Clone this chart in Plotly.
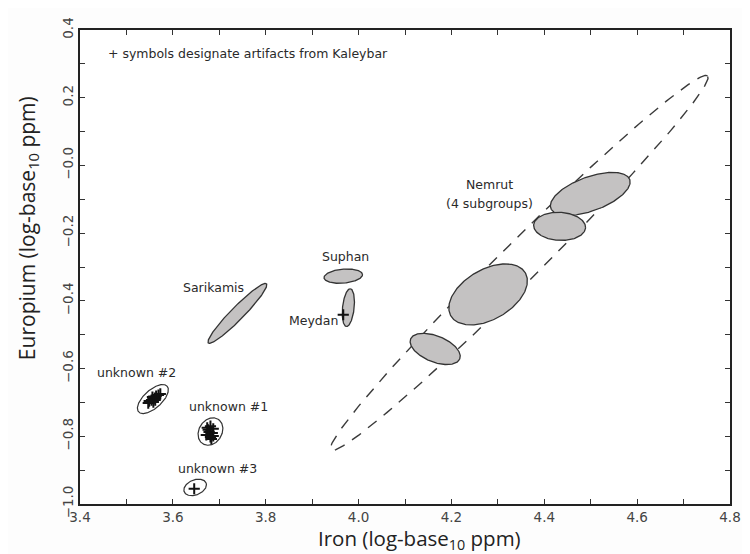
import numpy as np
import plotly.graph_objects as go

# ---------------- data ----------------
X_RANGE = [3.4, 4.8]
Y_RANGE = [-1.0, 0.4]

x_tick_vals = [3.4, 3.5, 3.6, 3.7, 3.8, 3.9, 4.0, 4.1, 4.2, 4.3, 4.4, 4.5, 4.6, 4.7, 4.8]
x_tick_text = ["3.4", "", "3.6", "", "3.8", "", "4.0", "", "4.2", "", "4.4", "", "4.6", "", "4.8"]
y_tick_vals = [-1.0, -0.9, -0.8, -0.7, -0.6, -0.5, -0.4, -0.3, -0.2, -0.1, 0.0, 0.1, 0.2, 0.3, 0.4]
y_tick_text = ["\u22121.0", "", "\u22120.8", "", "\u22120.6", "", "\u22120.4", "", "\u22120.2", "",
               "\u22120.0", "", "0.2", "", "0.4"]

# ellipses: centre (data), semi-axes (in x-axis units of screen length), screen angle (deg)
ell_names = ["Nemrut envelope", "Nemrut 1", "Nemrut 2", "Nemrut 3", "Nemrut 4",
             "Suphan", "Meydan", "Sarikamis", "unknown #2", "unknown #1", "unknown #3"]
ell_cx = [4.346, 4.499, 4.433, 4.279, 4.165, 3.967, 3.978, 3.739, 3.557, 3.681, 3.648]
ell_cy = [-0.288, -0.084, -0.180, -0.381, -0.542, -0.327, -0.420, -0.437, -0.690, -0.786, -0.951]
ell_a = [0.5718, 0.0905, 0.0560, 0.0926, 0.0571, 0.0416, 0.0409, 0.0894, 0.0414, 0.0312, 0.0254]
ell_b = [0.0422, 0.0366, 0.0302, 0.0538, 0.0280, 0.0151, 0.0125, 0.0140, 0.0194, 0.0248, 0.0162]
ell_ang = [44.8, 20, -3, 30, -22, 5, 84, 45.5, 42, 58, 22]
ell_kind = ["dashed", "filled", "filled", "filled", "filled", "filled", "filled", "filled",
            "open", "open", "open"]

# Kaleybar artifacts (+ symbols)
kal_x = [3.547, 3.554, 3.561, 3.564, 3.569, 3.556, 3.549, 3.562, 3.573, 3.558,
         3.674, 3.681, 3.687, 3.678, 3.685, 3.672, 3.681, 3.687, 3.676, 3.683,
         3.967, 3.646]
kal_y = [-0.702, -0.693, -0.687, -0.681, -0.678, -0.684, -0.696, -0.693, -0.675, -0.699,
         -0.775, -0.770, -0.778, -0.787, -0.790, -0.796, -0.802, -0.799, -0.781, -0.808,
         -0.441, -0.955]

# labels
lab_text = ["Nemrut", "(4 subgroups)", "Suphan", "Sarikamis", "Meydan",
            "unknown #2", "unknown #1", "unknown #3"]
lab_x = [4.283, 4.283, 3.971, 3.687, 3.902, 3.522, 3.719, 3.697]
lab_y = [-0.057, -0.111, -0.268, -0.362, -0.457, -0.613, -0.711, -0.896]

note_text = "+ symbols designate artifacts from Kaleybar"

# ---------------- layout constants ----------------
W, H = 750, 554
ML, MR, MT, MB = 72, 28, 22, 58
PW, PH = W - ML - MR, H - MT - MB
# data-y units per data-x unit for equal screen length
ASPECT = (PW / (X_RANGE[1] - X_RANGE[0])) / (PH / (Y_RANGE[1] - Y_RANGE[0]))

fig = go.Figure()

t = np.linspace(0, 2 * np.pi, 240)
for name, cx, cy, a, b, ang, kind in zip(ell_names, ell_cx, ell_cy, ell_a, ell_b, ell_ang, ell_kind):
    th = np.deg2rad(ang)
    dx = a * np.cos(t) * np.cos(th) - b * np.sin(t) * np.sin(th)
    dy = a * np.cos(t) * np.sin(th) + b * np.sin(t) * np.cos(th)
    xs = cx + dx
    ys = cy + dy * ASPECT
    if kind == "dashed":
        fig.add_trace(go.Scatter(x=xs, y=ys, mode="lines", name=name,
                                 line=dict(color="#3a3a3a", width=1.4, dash="11px,9px"),
                                 hoverinfo="skip", showlegend=False))
    elif kind == "filled":
        fig.add_trace(go.Scatter(x=xs, y=ys, mode="lines", name=name, fill="toself",
                                 fillcolor="#c4c2c2",
                                 line=dict(color="#333333", width=1.3),
                                 hoverinfo="skip", showlegend=False))
    else:
        fig.add_trace(go.Scatter(x=xs, y=ys, mode="lines", name=name,
                                 line=dict(color="#333333", width=1.2),
                                 hoverinfo="skip", showlegend=False))

fig.add_trace(go.Scatter(x=kal_x, y=kal_y, mode="markers", name="Kaleybar",
                         marker=dict(symbol="cross-thin", size=8,
                                     line=dict(color="#111111", width=2)),
                         showlegend=False))

lab_font = dict(family="DejaVu Sans, sans-serif", size=12.5, color="#2a2a2a")
for txt, lx, ly in zip(lab_text, lab_x, lab_y):
    fig.add_annotation(x=lx, y=ly, text=txt, showarrow=False, font=lab_font,
                       xanchor="center", yanchor="middle")

fig.add_annotation(x=3.457, y=0.332, text=note_text, showarrow=False, font=lab_font,
                   xanchor="left", yanchor="middle")

fig.add_annotation(xref="paper", yref="paper", x=0.522, y=-0.074,
                   text="Iron (log-base<sub>10</sub> ppm)", showarrow=False,
                   font=dict(family="Open Sans, Noto Sans, sans-serif", size=20.5, color="#222222"),
                   xanchor="center", yanchor="middle", borderpad=0)
fig.add_annotation(xref="paper", yref="paper", x=-0.08, y=0.582,
                   text="Europium (log-base<sub>10</sub> ppm)", showarrow=False,
                   font=dict(family="Open Sans, Noto Sans, sans-serif", size=21, color="#222222"),
                   textangle=-90, xanchor="center", yanchor="middle")

tick_font = dict(family="DejaVu Sans, sans-serif", size=13.5, color="#444444")
axis_common = dict(showgrid=False, zeroline=False, showline=True, linecolor="#222222",
                   linewidth=2, mirror="ticks", ticks="inside", ticklen=5,
                   tickcolor="#333333", tickwidth=1.2, tickfont=tick_font,
                   automargin=False)

fig.update_xaxes(range=X_RANGE, tickmode="array", tickvals=x_tick_vals,
                 ticktext=x_tick_text, **axis_common)
fig.update_yaxes(range=Y_RANGE, tickmode="array", tickvals=y_tick_vals,
                 ticktext=y_tick_text, tickangle=-90, **axis_common)

fig.update_layout(width=W, height=H, margin=dict(l=ML, r=MR, t=MT, b=MB),
                  plot_bgcolor="white", paper_bgcolor="#fdfdfd", showlegend=False)

fig.write_html("out.html")
